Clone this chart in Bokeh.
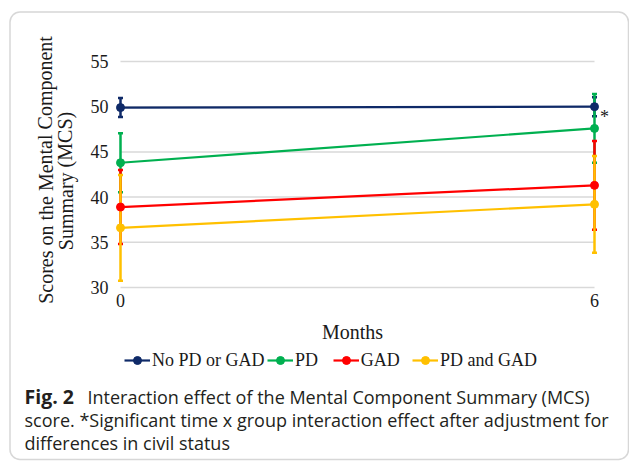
from bokeh.plotting import figure
from bokeh.models import Range1d, FixedTicker, Label, Legend, LegendItem, BoxAnnotation
from bokeh.embed import file_html
from bokeh.resources import INLINE

# ---------------- data ----------------
months = [0, 6]
x_ticks = [0, 6]
y_ticks = [30, 35, 40, 45, 50, 55]
groups = ["No PD or GAD", "PD", "GAD", "PD and GAD"]
colors = ["#0f2a68", "#00b050", "#ff0000", "#ffc000"]
mean_none = [49.9, 50.0]
err_none = [1.05, 1.05]
mean_pd = [43.8, 47.6]
err_pd = [3.25, 3.8]
mean_gad = [38.9, 41.3]
err_gad = [4.1, 4.9]
mean_both = [36.6, 39.2]
err_both = [5.85, 5.35]
means = [mean_none, mean_pd, mean_gad, mean_both]
errs = [err_none, err_pd, err_gad, err_both]

SERIF = "Liberation Serif"
SANS = "Open Sans"
W, H = 629, 461

# pixel mapping of the plot region (frame fills the canvas)
X0_PX, XPU = 120.0, 79.0          # x=0 at 120px, 79 px per month
Y30_PX, YPU = 287.0, 9.04         # y=30 at 287px from top, 9.04 px per point

p = figure(width=W, height=H, min_border=0,
           x_range=Range1d(-X0_PX / XPU, (W - X0_PX) / XPU),
           y_range=Range1d(30 - (H - Y30_PX) / YPU, 30 + Y30_PX / YPU),
           output_backend="svg", toolbar_location=None)
p.outline_line_color = None
p.xgrid.visible = False
p.ygrid.visible = False

for ax in (p.xaxis, p.yaxis):
    ax.axis_line_color = None
    ax.major_tick_line_color = None
    ax.minor_tick_line_color = None
    ax.major_tick_out = 0
    ax.major_tick_in = 0
    ax.major_label_text_font = SERIF
    ax.major_label_text_font_size = "18px"
    ax.major_label_text_color = "#1a1a1a"
p.xaxis.ticker = FixedTicker(ticks=x_ticks)
p.yaxis.ticker = FixedTicker(ticks=y_ticks)
# axes sit at fixed places inside the canvas; negative standoff keeps side panels empty
p.yaxis.fixed_location = (83 - X0_PX) / XPU
p.yaxis.major_label_standoff = -25
p.xaxis.fixed_location = 30 - (318 - Y30_PX) / YPU
p.xaxis.major_label_standoff = -25

# gridlines spanning the months
p.segment(x0=[months[0]] * len(y_ticks), x1=[months[-1]] * len(y_ticks),
          y0=y_ticks, y1=y_ticks, line_color="#d9d9d9", line_width=1.5)

# error bars
for m, e, c in zip(means, errs, colors):
    lo = [a - b for a, b in zip(m, e)]
    hi = [a + b for a, b in zip(m, e)]
    p.segment(x0=months, x1=months, y0=lo, y1=hi, line_color=c, line_width=2.5)
    p.scatter(x=months + months, y=lo + hi, marker="dash", size=5,
              line_color=c, line_width=2.5)

# lines + markers
for m, c in zip(means, colors):
    p.line(months, m, line_color=c, line_width=2.2)
    p.scatter(months, m, size=8, fill_color=c, line_color=c)

def sy(page_y):
    return H - page_y

# legend swatches: renderers whose data lie outside the visible ranges
off_x = [-20, -19]
off_y = [0, 0]
leg_x = [124, 267, 332.7, 412]
for g, c, lx in zip(groups, colors, leg_x):
    lr = p.line(x=off_x, y=off_y, line_color=c, line_width=2.2)
    sr = p.scatter(x=off_x, y=off_y, size=6, fill_color=c, line_color=c)
    leg = Legend(items=[LegendItem(label=g, renderers=[lr, sr])],
                 location=(lx, sy(370.7)), orientation="horizontal",
                 glyph_width=26, glyph_height=20, label_height=20,
                 label_standoff=2, padding=0, margin=0, spacing=0,
                 border_line_color=None, background_fill_alpha=0,
                 label_text_font=SERIF, label_text_font_size="18px",
                 label_text_color="#1a1a1a")
    p.add_layout(leg)

def lab(text, x, y, font=SERIF, size="20px", angle=0, align="center",
        baseline="middle", style="normal", color="#1a1a1a"):
    p.add_layout(Label(x=x, y=sy(y), x_units="screen", y_units="screen", text=text,
                       text_font=font, text_font_size=size, angle=angle,
                       text_align=align, text_baseline=baseline,
                       text_font_style=style, text_color=color))

# axis titles
lab("Scores on the Mental Component", 45, 169.5, angle=1.5708)
lab("Summary (MCS)", 65, 180.5, angle=1.5708)
lab("Months", 352, 331)
lab("*", 604, 116, size="18px")

# caption
cap_col = "#231f20"
cap_size = "18px"
lab("Fig. 2", 24, 396, font=SANS, size="19.5px", align="left",
    baseline="alphabetic", style="bold", color=cap_col)
lab("Interaction effect of the Mental Component Summary (MCS)", 87, 396,
    font=SANS, size=cap_size, align="left", baseline="alphabetic", color=cap_col)
lab("score. *Significant time x group interaction effect after adjustment for",
    24, 419, font=SANS, size=cap_size, align="left", baseline="alphabetic",
    color=cap_col)
lab("differences in civil status", 24, 442, font=SANS, size=cap_size,
    align="left", baseline="alphabetic", color=cap_col)

# card border
p.add_layout(BoxAnnotation(left=9.5, right=628, top=sy(11.5), bottom=sy(459),
                           left_units="screen", right_units="screen",
                           top_units="screen", bottom_units="screen",
                           fill_alpha=0, line_color="#7a7a7a", line_width=1.5,
                           border_radius=10, level="underlay"))

open("out.html", "w").write(file_html(p, INLINE))
